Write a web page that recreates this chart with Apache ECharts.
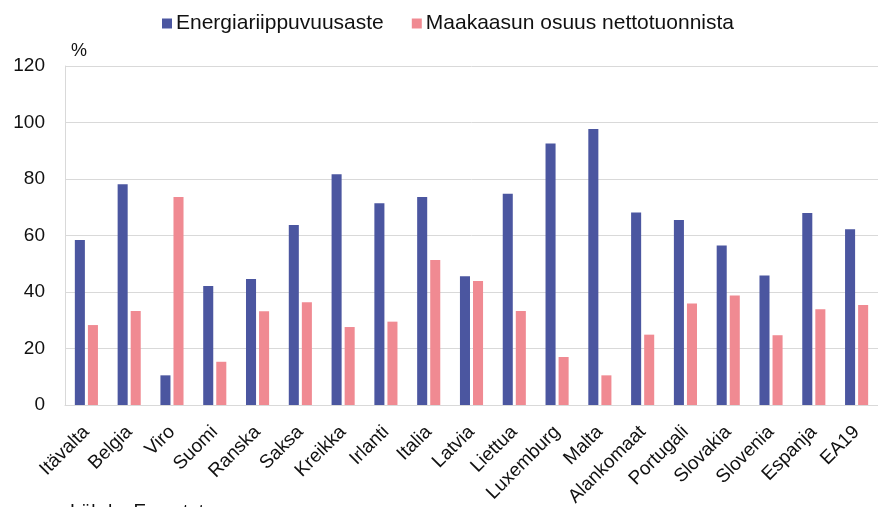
<!DOCTYPE html>
<html>
<head>
<meta charset="utf-8">
<script src="https://cdn.jsdelivr.net/npm/echarts@6/dist/echarts.min.js"></script>
<style>
  html, body { margin: 0; padding: 0; background: #fff; }
  #chart { width: 878px; height: 507px; }
</style>
</head>
<body>
<div id="chart"></div>
<script>
const countries = ['Itävalta', 'Belgia', 'Viro', 'Suomi', 'Ranska', 'Saksa', 'Kreikka', 'Irlanti', 'Italia', 'Latvia',
  'Liettua', 'Luxemburg', 'Malta', 'Alankomaat', 'Portugali', 'Slovakia', 'Slovenia', 'Espanja', 'EA19']
const dependency = [58.4, 78.1, 10.5, 42.1, 44.6, 63.7, 81.7, 71.4, 73.6, 45.6,
  74.8, 92.6, 97.7, 68.1, 65.5, 56.5, 45.8, 68.0, 62.2]
const gasShare = [28.3, 33.3, 73.6, 15.3, 33.2, 36.4, 27.6, 29.5, 51.3, 43.9,
  33.3, 17.0, 10.5, 24.9, 35.9, 38.8, 24.7, 33.9, 35.4]
const seriesNames = ['Energiariippuvuusaste', 'Maakaasun osuus nettotuonnista']
const yTicks = [0, 20, 40, 60, 80, 100, 120]

const chart = echarts.init(document.getElementById('chart'))

const font = 'Liberation Sans, Arial, sans-serif'

chart.setOption({
  animation: false,
  textStyle: { fontFamily: font },
  legend: {
    data: seriesNames,
    top: 8,
    left: 157,
    itemWidth: 10,
    itemHeight: 10,
    itemGap: 28,
    icon: 'rect',
    textStyle: { fontSize: 21, color: '#111', fontFamily: font, padding: [0, 0, 0, -1] }
  },
  grid: { left: 65, right: 0, top: 66, bottom: 102, containLabel: false, outerBoundsMode: 'none' },
  xAxis: {
    type: 'category',
    data: countries,
    axisLine: { show: true, lineStyle: { color: '#d9d9d9', width: 1 } },
    axisTick: { show: false },
    axisLabel: {
      rotate: 45,
      fontSize: 19,
      color: '#111',
      fontFamily: font,
      margin: 24,
      interval: 0
    }
  },
  yAxis: {
    type: 'value',
    min: yTicks[0],
    max: yTicks[yTicks.length - 1],
    interval: 20,
    name: '%',
    nameLocation: 'end',
    nameGap: 6,
    nameTextStyle: { fontSize: 18, color: '#111', align: 'left', padding: [0, 0, 0, 6] },
    axisLine: { show: true, lineStyle: { color: '#d9d9d9' } },
    axisTick: { show: false },
    axisLabel: { fontSize: 19, color: '#111', margin: 20, fontFamily: font },
    splitLine: { lineStyle: { color: '#d9d9d9', width: 1 } }
  },
  series: [
    {
      name: seriesNames[0],
      type: 'bar',
      data: dependency,
      barGap: '30%',
      barCategoryGap: '46%',
      itemStyle: { color: '#4b56a0' }
    },
    {
      name: seriesNames[1],
      type: 'bar',
      data: gasShare,
      itemStyle: { color: '#f08a92' }
    }
  ],
  graphic: [
    {
      type: 'text',
      left: 70,
      top: 502,
      style: { text: 'Lähde: Eurostat', fontSize: 19, fill: '#111', fontFamily: font }
    }
  ]
})
</script>
</body>
</html>
